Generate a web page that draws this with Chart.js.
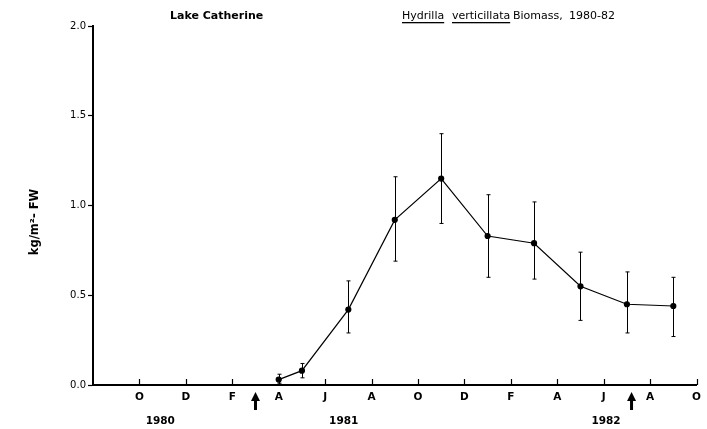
<!DOCTYPE html>
<html>
<head>
<meta charset="utf-8">
<title>Lake Catherine - Hydrilla verticillata Biomass, 1980-82</title>
<script src="https://cdn.jsdelivr.net/npm/chart.js@4.4.1/dist/chart.umd.min.js"></script>
<style>
  html, body { margin: 0; padding: 0; background: #fff; }
  #wrap { width: 707px; height: 429px; }
</style>
</head>
<body>
<div id="wrap"><canvas id="chart" width="707" height="429"></canvas></div>
<script>
// months counted from Aug 1980 (= 0)
const sampleMonths = [8, 9, 11, 13, 15, 17, 19, 21, 23, 25];
const biomass = [0.03, 0.08, 0.42, 0.92, 1.15, 0.83, 0.79, 0.55, 0.45, 0.44];
const errUpper = [0.06, 0.12, 0.58, 1.16, 1.40, 1.06, 1.02, 0.74, 0.63, 0.60];
const errLower = [0.01, 0.04, 0.29, 0.69, 0.90, 0.60, 0.59, 0.36, 0.29, 0.27];

const tickMonths = [2, 4, 6, 8, 10, 12, 14, 16, 18, 20, 22, 24, 26];
const tickLabels = ['O', 'D', 'F', 'A', 'J', 'A', 'O', 'D', 'F', 'A', 'J', 'A', 'O'];
const yTicks = [0, 0.5, 1.0, 1.5, 2.0];

const years = ['1980', '1981', '1982'];
const yearMonths = [2.9, 10.8, 22.1];
const arrowMonths = [7.0, 23.2];

const FONT = '"DejaVu Sans", "Liberation Sans", sans-serif';

// extra drawing: titles, error bars, inner ticks, year labels, arrows
const annotations = {
  id: 'annotations',
  afterDatasetsDraw(chart) {
    const ctx = chart.ctx;
    const x = chart.scales.x;
    const y = chart.scales.y;
    const bottom = chart.chartArea.bottom;
    ctx.save();
    ctx.strokeStyle = '#000';
    ctx.fillStyle = '#000';

    // error bars
    ctx.lineWidth = 1;
    sampleMonths.forEach((m, i) => {
      const px = Math.round(x.getPixelForValue(m)) + 0.5;
      const top = y.getPixelForValue(errUpper[i]);
      const bot = y.getPixelForValue(errLower[i]);
      ctx.beginPath();
      ctx.moveTo(px, top);
      ctx.lineTo(px, bot);
      ctx.moveTo(px - 2, top);
      ctx.lineTo(px + 2, top);
      ctx.moveTo(px - 2, bot);
      ctx.lineTo(px + 2, bot);
      ctx.stroke();
    });

    // x ticks pointing into the plot
    ctx.lineWidth = 1.2;
    tickMonths.forEach(m => {
      const px = Math.round(x.getPixelForValue(m)) + 0.5;
      ctx.beginPath();
      ctx.moveTo(px, bottom);
      ctx.lineTo(px, bottom - 6);
      ctx.stroke();
    });

    // year labels
    ctx.font = 'bold 10.5px ' + FONT;
    ctx.textAlign = 'center';
    ctx.textBaseline = 'middle';
    years.forEach((t, i) => {
      ctx.fillText(t, x.getPixelForValue(yearMonths[i]), 421);
    });

    // treatment arrows
    arrowMonths.forEach(m => {
      const px = x.getPixelForValue(m);
      ctx.fillRect(px - 1.5, 399, 3, 11);
      ctx.beginPath();
      ctx.moveTo(px, 392);
      ctx.lineTo(px - 4.5, 401);
      ctx.lineTo(px + 4.5, 401);
      ctx.closePath();
      ctx.fill();
    });

    // y axis title
    ctx.save();
    ctx.translate(35, 222);
    ctx.rotate(-Math.PI / 2);
    ctx.font = 'bold 11.5px ' + FONT;
    ctx.fillText('kg/m²- FW', 0, 0);
    ctx.restore();

    // chart titles
    ctx.textAlign = 'left';
    ctx.font = 'bold 11px ' + FONT;
    ctx.fillText('Lake Catherine', 170, 16);

    ctx.font = '11px ' + FONT;
    const parts = ['Hydrilla', 'verticillata', 'Biomass,', '1980-82'];
    const starts = [402, 452, 513, 569];
    parts.forEach((p, i) => {
      const w = ctx.measureText(p).width;
      ctx.fillText(p, starts[i], 16);
      if (i < 2) {
        ctx.fillRect(starts[i], 22, w, 1.3);
      }
    });

    ctx.restore();
  }
};

new Chart(document.getElementById('chart'), {
  type: 'line',
  data: {
    datasets: [{
      label: 'Biomass',
      data: sampleMonths.map((m, i) => ({ x: m, y: biomass[i] })),
      borderColor: '#000',
      borderWidth: 1.2,
      backgroundColor: '#000',
      pointBackgroundColor: '#000',
      pointBorderColor: '#000',
      pointRadius: 2.5,
      tension: 0,
      fill: false
    }]
  },
  options: {
    responsive: false,
    animation: false,
    layout: { padding: { top: 26, right: 10, left: 0, bottom: 0 } },
    plugins: {
      legend: { display: false },
      tooltip: { enabled: false },
      title: { display: false }
    },
    scales: {
      x: {
        type: 'linear',
        min: 0,
        max: 26,
        afterFit: s => { s.height = 44; },
        afterBuildTicks: s => { s.ticks = tickMonths.map(v => ({ value: v })); },
        grid: { drawOnChartArea: false, drawTicks: false, color: '#000' },
        border: { display: true, color: '#000', width: 2 },
        ticks: {
          padding: 6,
          color: '#000',
          font: { family: FONT, size: 10.5, weight: 'bold' },
          maxRotation: 0,
          autoSkip: false,
          callback: (v, i) => tickLabels[i]
        }
      },
      y: {
        min: 0,
        max: 2,
        afterFit: s => { s.width = 93; },
        afterBuildTicks: s => { s.ticks = yTicks.map(v => ({ value: v })); },
        grid: { drawOnChartArea: false, drawTicks: true, tickLength: 5, color: '#000', tickWidth: 1.2 },
        border: { display: true, color: '#000', width: 2 },
        ticks: {
          padding: 2,
          color: '#000',
          font: { family: FONT, size: 10 },
          callback: v => v.toFixed(1)
        }
      }
    }
  },
  plugins: [annotations]
});
</script>
</body>
</html>
